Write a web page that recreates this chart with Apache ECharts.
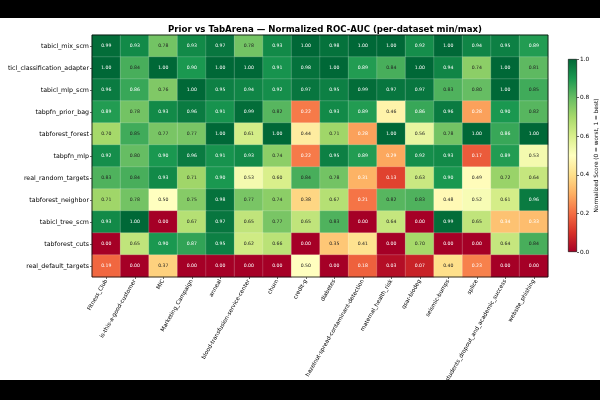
<!DOCTYPE html>
<html>
<head>
<meta charset="utf-8">
<script src="https://cdn.jsdelivr.net/npm/echarts@6/dist/echarts.min.js"></script>
<style>
  html, body { margin: 0; padding: 0; background: #fff; }
  #chart { width: 600px; height: 400px; }
</style>
</head>
<body>
<div id="chart"></div>
<script>
// 数据集（列）
var datasets = ['Fitness_Club', 'is-this-a-good-customer', 'MIC', 'Marketing_Campaign', 'anneal',
    'blood-transfusion-service-center', 'churn', 'credit-g', 'diabetes',
    'hazelnut-spread-contaminant-detection', 'maternal_health_risk', 'qsar-biodeg',
    'seismic-bumps', 'splice', 'students_dropout_and_academic_success', 'website_phishing'];

// 先验（行，从上到下）
var priors = ['tabicl_mix_scm', 'ticl_classification_adapter', 'tabicl_mlp_scm', 'tabpfn_prior_bag',
    'tabforest_forest', 'tabpfn_mlp', 'real_random_targets', 'tabforest_neighbor',
    'tabicl_tree_scm', 'tabforest_cuts', 'real_default_targets'];

// 归一化分数，每行对应一个先验
var scores = [
    [0.99, 0.93, 0.78, 0.93, 0.97, 0.78, 0.93, 1.00, 0.98, 1.00, 1.00, 0.92, 1.00, 0.94, 0.95, 0.89],
    [1.00, 0.84, 1.00, 0.90, 1.00, 1.00, 0.91, 0.98, 1.00, 0.89, 0.84, 1.00, 0.94, 0.74, 1.00, 0.81],
    [0.96, 0.86, 0.76, 1.00, 0.95, 0.94, 0.92, 0.97, 0.95, 0.99, 0.97, 0.97, 0.83, 0.80, 1.00, 0.85],
    [0.89, 0.78, 0.93, 0.96, 0.91, 0.99, 0.82, 0.22, 0.93, 0.89, 0.46, 0.86, 0.96, 0.28, 0.90, 0.82],
    [0.70, 0.85, 0.77, 0.77, 1.00, 0.61, 1.00, 0.44, 0.71, 0.28, 1.00, 0.56, 0.78, 1.00, 0.86, 1.00],
    [0.92, 0.80, 0.90, 0.96, 0.91, 0.93, 0.74, 0.22, 0.95, 0.89, 0.29, 0.92, 0.93, 0.17, 0.89, 0.53],
    [0.83, 0.84, 0.93, 0.71, 0.90, 0.53, 0.60, 0.84, 0.78, 0.31, 0.13, 0.63, 0.90, 0.49, 0.72, 0.64],
    [0.71, 0.78, 0.50, 0.75, 0.98, 0.77, 0.74, 0.38, 0.67, 0.21, 0.82, 0.83, 0.48, 0.52, 0.61, 0.96],
    [0.93, 1.00, 0.00, 0.67, 0.97, 0.65, 0.77, 0.65, 0.83, 0.00, 0.64, 0.00, 0.99, 0.65, 0.34, 0.33],
    [0.00, 0.65, 0.90, 0.87, 0.95, 0.62, 0.66, 0.00, 0.35, 0.41, 0.00, 0.70, 0.00, 0.00, 0.64, 0.84],
    [0.19, 0.00, 0.37, 0.00, 0.00, 0.00, 0.00, 0.50, 0.00, 0.18, 0.03, 0.07, 0.40, 0.23, 0.00, 0.00]
];

// 色条刻度
var colorbarTicks = [0.0, 0.2, 0.4, 0.6, 0.8, 1.0];

// RdYlGn 配色
var rdylgn = ['#a50026', '#d73027', '#f46d43', '#fdae61', '#fee08b', '#ffffbf',
    '#d9ef8b', '#a6d96a', '#66bd63', '#1a9850', '#006837'];

var heatData = [];
for (var r = 0; r < priors.length; r++) {
    for (var c = 0; c < datasets.length; c++) {
        var v = scores[r][c];
        // 深色格子用白色文字
        var light = v < 0.35 || v > 0.85;
        heatData.push({ value: [c, r, v], label: { color: light ? '#fff' : '#222' } });
    }
}

var gradStops = rdylgn.map(function (col, i) {
    return { offset: 1 - i / (rdylgn.length - 1), color: col };
});

var myChart = echarts.init(document.getElementById('chart'), null, { renderer: 'canvas' });
var font = 'DejaVu Sans';

var option = {
    backgroundColor: '#fff',
    animation: false,
    textStyle: { fontFamily: font },
    title: {
        text: 'Prior vs TabArena — Normalized ROC-AUC (per-dataset min/max)',
        left: 320,
        top: 20,
        textAlign: 'center',
        textStyle: { fontSize: 8.6, fontWeight: 'bold', color: '#000', fontFamily: font }
    },
    graphic: [
        { type: 'rect', left: 0, top: 0, shape: { width: 600, height: 18 }, style: { fill: '#000' }, z: 100 },
        { type: 'rect', left: 0, top: 380, shape: { width: 600, height: 20 }, style: { fill: '#000' }, z: 100 }
    ],
    grid: [
        { left: 92, top: 35, width: 456, height: 242, outerBoundsMode: 'none', containLabel: false,
          show: true, borderColor: '#000', borderWidth: 0.8, backgroundColor: 'transparent', z: 5 },
        { left: 568, top: 59, width: 9, height: 193, outerBoundsMode: 'none', containLabel: false }
    ],
    xAxis: [
        {
            type: 'category', gridIndex: 0, data: datasets,
            name: 'TabArena Dataset', nameLocation: 'middle', nameGap: 98,
            nameTextStyle: { fontSize: 7, color: '#000' },
            axisLine: { show: false },
            axisTick: { show: true, alignWithLabel: true, length: 2, lineStyle: { color: '#000', width: 0.6 } },
            axisLabel: { rotate: 60, fontSize: 5.6, color: '#000', margin: 3, interval: 0 },
            splitLine: { show: false }
        },
        {
            type: 'category', gridIndex: 1, data: [''],
            axisLine: { show: false }, axisTick: { show: false }, axisLabel: { show: false }
        }
    ],
    yAxis: [
        {
            type: 'category', gridIndex: 0, data: priors, inverse: true,
            name: 'Prior', nameLocation: 'middle', nameGap: 85, nameRotate: 90,
            nameTextStyle: { fontSize: 7, color: '#000' },
            axisLine: { show: false },
            axisTick: { show: true, alignWithLabel: true, length: 2, lineStyle: { color: '#000', width: 0.6 } },
            axisLabel: { fontSize: 6.3, color: '#000', margin: 3, interval: 0 },
            splitLine: { show: false }
        },
        {
            type: 'value', gridIndex: 1, position: 'right', min: 0, max: 1, interval: 0.2,
            name: 'Normalized Score (0 = worst, 1 = best)', nameLocation: 'middle', nameGap: 14, nameRotate: 90,
            nameTextStyle: { fontSize: 5.8, color: '#000' },
            axisLine: { show: false },
            axisTick: { show: true, length: 2, lineStyle: { color: '#000', width: 0.6 } },
            axisLabel: { fontSize: 5.8, color: '#000', margin: 3, formatter: function (v) { return v.toFixed(1); } },
            splitLine: { show: false }
        }
    ],
    visualMap: {
        show: false, min: 0, max: 1, seriesIndex: 0, dimension: 2,
        inRange: { color: rdylgn }
    },
    series: [
        {
            type: 'heatmap', xAxisIndex: 0, yAxisIndex: 0, data: heatData,
            itemStyle: { borderColor: 'rgba(255,255,255,0.35)', borderWidth: 0.5 },
            label: {
                show: true, fontSize: 4.6, fontFamily: font,
                formatter: function (p) { return p.value[2].toFixed(2); }
            }
        },
        {
            type: 'bar', xAxisIndex: 1, yAxisIndex: 1, data: [colorbarTicks[colorbarTicks.length - 1]],
            barWidth: '100%', silent: true,
            itemStyle: {
                borderColor: '#000', borderWidth: 0.6,
                color: new echarts.graphic.LinearGradient(0, 0, 0, 1, gradStops)
            }
        }
    ]
};

myChart.setOption(option);
</script>
</body>
</html>
